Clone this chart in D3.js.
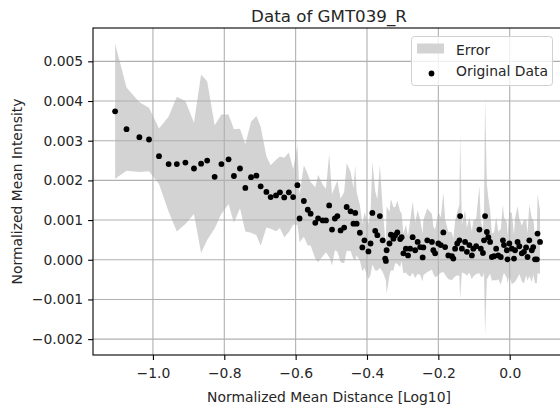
<!DOCTYPE html>
<html>
<head>
<meta charset="utf-8">
<script src="https://cdn.jsdelivr.net/npm/d3@7"></script>
<style>
  body { margin: 0; background: #fff; }
  svg { display: block; font-family: "DejaVu Sans", sans-serif; }
</style>
</head>
<body>
<script>
// data (log10 distance, mean intensity, error half-width)
const distance = [
  -1.106, -1.074, -1.038, -1.011, -0.983, -0.956, -0.933, -0.909, -0.885, -0.865,
  -0.848, -0.827, -0.808, -0.788, -0.773, -0.756, -0.741, -0.725, -0.710, -0.698,
  -0.682, -0.670, -0.655, -0.644, -0.632, -0.619, -0.607, -0.595, -0.589, -0.577,
  -0.566, -0.558, -0.545, -0.537, -0.524, -0.515, -0.506, -0.498, -0.490, -0.483,
  -0.474, -0.464, -0.457, -0.446, -0.438, -0.433, -0.429, -0.420, -0.413, -0.407,
  -0.396, -0.390, -0.385, -0.377, -0.371, -0.364, -0.356, -0.349, -0.347, -0.345,
  -0.337, -0.333, -0.326, -0.321, -0.315, -0.307, -0.303, -0.298, -0.291, -0.285,
  -0.279, -0.272, -0.265, -0.258, -0.251, -0.244, -0.242, -0.231, -0.218, -0.214,
  -0.209, -0.200, -0.193, -0.186, -0.181, -0.172, -0.162, -0.158, -0.153, -0.147,
  -0.141, -0.139, -0.134, -0.125, -0.120, -0.113, -0.106, -0.102, -0.094, -0.085,
  -0.081, -0.075, -0.072, -0.069, -0.064, -0.060, -0.055, -0.050, -0.044, -0.038,
  -0.032, -0.025, -0.019, -0.016, -0.008, -0.006, -0.001, 0.006, 0.012, 0.015,
  0.022, 0.027, 0.034, 0.040, 0.046, 0.050, 0.055, 0.062, 0.066, 0.071,
  0.076, 0.078, 0.085
];
const intensity = [
  0.00374, 0.00329, 0.00309, 0.00303, 0.00261, 0.00241, 0.00241, 0.00245, 0.00230, 0.00242,
  0.00250, 0.00209, 0.00241, 0.00253, 0.00211, 0.00230, 0.00181, 0.00208, 0.00212, 0.00185,
  0.00171, 0.00158, 0.00162, 0.00170, 0.00157, 0.00170, 0.00158, 0.00188, 0.00104, 0.00148,
  0.00126, 0.00116, 0.00093, 0.00104, 0.00099, 0.00099, 0.00137, 0.00076, 0.00104, 0.00110,
  0.00074, 0.00081, 0.00133, 0.00122, 0.00091, 0.00118, 0.00091, 0.00068, 0.00031, 0.00049,
  0.00021, 0.00041, 0.00118, 0.00073, 0.00062, 0.00110, 0.00049, 0.00003, -0.00003, 0.00024,
  0.00041, 0.00063, 0.00053, 0.00062, 0.00069, 0.00052, 0.00057, 0.00016, 0.00028, 0.00011,
  0.00028, 0.00057, 0.00024, 0.00045, 0.00032, 0.00006, 0.00031, 0.00049, 0.00045, 0.00024,
  0.00016, 0.00041, 0.00037, 0.00069, 0.00032, 0.00011, 0.00009, 0.00003, 0.00028, 0.00041,
  0.00049, 0.00110, 0.00028, 0.00045, 0.00020, 0.00037, 0.00011, 0.00028, 0.00034, 0.00076,
  0.00028, 0.00017, 0.00049, 0.00110, 0.00070, 0.00057, 0.00045, 0.00007, 0.00009, 0.00028,
  0.00011, 0.00007, 0.00049, 0.00037, 0.00024, 0.00001, 0.00041, 0.00028, 0.00003, 0.00024,
  0.00045, 0.00034, 0.00016, 0.00020, 0.00031, 0.00007, 0.00049, 0.00024, 0.00032, 0.00001,
  0.00001, 0.00066, 0.00045
];
const errorSize = [
  0.00170, 0.00105, 0.00088, 0.00080, 0.00070, 0.00120, 0.00170, 0.00155, 0.00115, 0.00225,
  0.00200, 0.00130, 0.00125, 0.00113, 0.00118, 0.00100, 0.00110, 0.00140, 0.00150, 0.00150,
  0.00090, 0.00080, 0.00090, 0.00090, 0.00100, 0.00100, 0.00070, 0.00100, 0.00060, 0.00090,
  0.00090, 0.00080, 0.00090, 0.00110, 0.00090, 0.00080, 0.00130, 0.00090, 0.00080, 0.00090,
  0.00080, 0.00090, 0.00110, 0.00100, 0.00090, 0.00120, 0.00080, 0.00070, 0.00060, 0.00070,
  0.00070, 0.00080, 0.00130, 0.00100, 0.00090, 0.00130, 0.00080, 0.00050, 0.00050, 0.00110,
  0.00080, 0.00090, 0.00080, 0.00070, 0.00080, 0.00070, 0.00060, 0.00050, 0.00060, 0.00050,
  0.00070, 0.00090, 0.00070, 0.00080, 0.00070, 0.00060, 0.00070, 0.00080, 0.00070, 0.00060,
  0.00060, 0.00080, 0.00070, 0.00100, 0.00070, 0.00060, 0.00060, 0.00050, 0.00070, 0.00080,
  0.00090, 0.00210, 0.00060, 0.00080, 0.00060, 0.00070, 0.00060, 0.00070, 0.00070, 0.00110,
  0.00070, 0.00060, 0.00080, 0.00300, 0.00120, 0.00100, 0.00080, 0.00060, 0.00060, 0.00080,
  0.00060, 0.00070, 0.00090, 0.00070, 0.00070, 0.00060, 0.00080, 0.00090, 0.00060, 0.00080,
  0.00090, 0.00070, 0.00070, 0.00080, 0.00070, 0.00060, 0.00090, 0.00080, 0.00070, 0.00060,
  0.00060, 0.00100, 0.00080
];
const xTicks = [-1.0, -0.8, -0.6, -0.4, -0.2, 0.0];
const yTicks = [-0.002, -0.001, 0.000, 0.001, 0.002, 0.003, 0.004, 0.005];

const width = 560;
const height = 409;
const plotLeft = 93, plotRight = 565, plotTop = 28, plotBottom = 355;
const fontSize = '13.9px';

const rows = distance.map((d, i) => ({x: d, y: intensity[i], e: errorSize[i]}));

const xScale = d3.scaleLinear()
    .domain([-1.168, 0.155])
    .range([plotLeft, plotRight]);

const yScale = d3.scaleLinear()
    .domain([-0.0024, 0.00584])
    .range([plotBottom, plotTop]);

const svg = d3.select('body')
    .append('svg')
    .attr('width', width)
    .attr('height', height);

svg.append('defs').append('clipPath')
    .attr('id', 'plotclip')
    .append('rect')
    .attr('x', plotLeft).attr('y', plotTop)
    .attr('width', plotRight - plotLeft).attr('height', plotBottom - plotTop);

const plot = svg.append('g').attr('clip-path', 'url(#plotclip)');

// error band
const band = d3.area()
    .x((d) => xScale(d.x))
    .y0((d) => yScale(d.y - d.e))
    .y1((d) => yScale(d.y + d.e));

plot.append('path')
    .datum(rows)
    .attr('d', band)
    .attr('fill', '#d3d3d3');

// grid
plot.selectAll('.gx')
    .data(xTicks)
    .enter()
    .append('line')
    .attr('x1', (d) => xScale(d)).attr('x2', (d) => xScale(d))
    .attr('y1', plotTop).attr('y2', plotBottom)
    .attr('stroke', '#b0b0b0')
    .attr('stroke-width', 1.1);

plot.selectAll('.gy')
    .data(yTicks)
    .enter()
    .append('line')
    .attr('x1', plotLeft).attr('x2', plotRight)
    .attr('y1', (d) => yScale(d)).attr('y2', (d) => yScale(d))
    .attr('stroke', '#b0b0b0')
    .attr('stroke-width', 1.1);

// points
plot.selectAll('circle')
    .data(rows)
    .enter()
    .append('circle')
    .attr('cx', (d) => xScale(d.x))
    .attr('cy', (d) => yScale(d.y))
    .attr('r', 2.9)
    .attr('fill', '#000');

// axes
const xAxis = svg.append('g')
    .attr('transform', `translate(0, ${plotBottom})`)
    .call(d3.axisBottom(xScale).tickValues(xTicks).tickFormat(d3.format('.1f')).tickSize(4.9).tickPadding(8));

const yAxis = svg.append('g')
    .attr('transform', `translate(${plotLeft}, 0)`)
    .call(d3.axisLeft(yScale).tickValues(yTicks).tickFormat(d3.format('.3f')).tickSize(4.9).tickPadding(4.9));

[xAxis, yAxis].forEach((a) => {
    a.select('.domain').remove();
    a.selectAll('line').attr('stroke', '#000').attr('stroke-width', 1.1);
    a.selectAll('text')
        .attr('fill', '#262626')
        .style('font-size', fontSize)
        .style('font-family', '"DejaVu Sans", sans-serif');
});

// spines
svg.append('rect')
    .attr('x', plotLeft).attr('y', plotTop)
    .attr('width', plotRight - plotLeft).attr('height', plotBottom - plotTop)
    .attr('fill', 'none')
    .attr('stroke', '#000')
    .attr('stroke-width', 1.1);

// title and labels
svg.append('text')
    .attr('x', (plotLeft + plotRight) / 2)
    .attr('y', 22)
    .attr('text-anchor', 'middle')
    .style('font-size', '16.7px')
    .attr('fill', '#262626')
    .text('Data of GMT039_R');

svg.append('text')
    .attr('x', (plotLeft + plotRight) / 2)
    .attr('y', 402)
    .attr('text-anchor', 'middle')
    .style('font-size', fontSize)
    .attr('fill', '#262626')
    .text('Normalized Mean Distance [Log10]');

svg.append('text')
    .attr('transform', `translate(22, ${(plotTop + plotBottom) / 2}) rotate(-90)`)
    .attr('text-anchor', 'middle')
    .style('font-size', fontSize)
    .attr('fill', '#262626')
    .text('Normalized Mean Intensity');

// legend
const legend = svg.append('g');
legend.append('rect')
    .attr('x', 411.5).attr('y', 36.5)
    .attr('width', 141).attr('height', 49)
    .attr('rx', 3)
    .attr('fill', 'rgba(255,255,255,0.8)')
    .attr('stroke', '#d0d0d0');

legend.append('rect')
    .attr('x', 417).attr('y', 43.5)
    .attr('width', 27).attr('height', 10)
    .attr('fill', '#d3d3d3');

legend.append('circle')
    .attr('cx', 431.5).attr('cy', 73.5)
    .attr('r', 2.9)
    .attr('fill', '#000');

legend.selectAll('.lt')
    .data(['Error', 'Original Data'])
    .enter()
    .append('text')
    .attr('x', 456)
    .attr('y', (d, i) => 54.5 + i * 21.5)
    .style('font-size', fontSize)
    .attr('fill', '#262626')
    .text((d) => d);
</script>
</body>
</html>
